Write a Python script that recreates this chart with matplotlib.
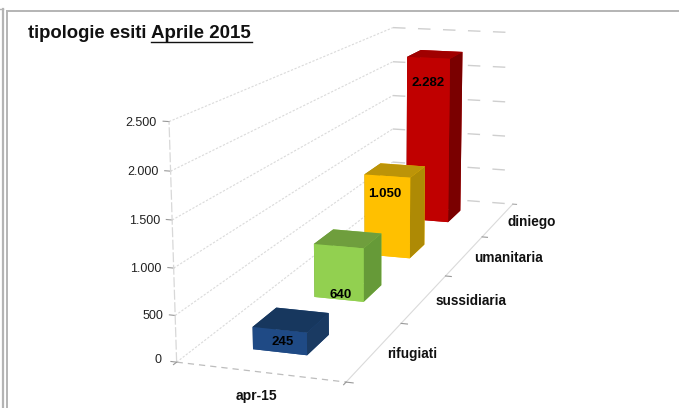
import numpy as np
import matplotlib
matplotlib.use('Agg')
import matplotlib.pyplot as plt
from matplotlib.lines import Line2D
from mpl_toolkits.mplot3d import proj3d

# --- data -------------------------------------------------------------
categories = ['rifugiati', 'sussidiaria', 'umanitaria', 'diniego']
values = [245, 640, 1050, 2282]
value_labels = ['245', '640', '1.050', '2.282']
value_ticks = [0, 500, 1000, 1500, 2000, 2500]
value_tick_labels = ['0', '500', '1.000', '1.500', '2.000', '2.500']
period_label = 'apr-15'
title_plain = 'tipologie esiti'
title_underlined = 'Aprile 2015'

# --- style ------------------------------------------------------------
W, H = 679, 408
FONT = 'Liberation Sans'
front_col = ['#1F4A85', '#92D050', '#FFC000', '#C00000']
top_col = ['#17375E', '#6F9E3D', '#BC9408', '#A00000']
side_col = ['#1A3A62', '#669A38', '#AE8A05', '#7A0000']
label_frac = [0.45, 0.08, 0.78, 0.85]
label_x = [0.505, 0.50, 0.47, 0.49]
FRAME = '#B4B4B4'
GRID = '#DADADA'
DASH = '#CFCFCF'

fig = plt.figure(figsize=(W / 100, H / 100), dpi=100, facecolor='white')
S, cx, cy = 645.14, 365.35, 179.52
ax = fig.add_axes([(cx - S / 2) / W, (H - cy - S / 2) / H, S / W, S / H],
                  projection='3d')
ax.computed_zorder = False
ax.patch.set_alpha(0)
ax.set_axis_off()
ax.view_init(elev=12.95, azim=-72.16, roll=0)
ax.set_proj_type('persp', focal_length=0.4243)
ax.set_box_aspect((1, 4.090, 1.368))

n = len(categories)
zmax = value_ticks[-1]
ax.set_xlim(0, 1)
ax.set_ylim(0, n)
ax.set_zlim(0, zmax)
M = ax.get_proj()


def label3d(x, y, z, s, dy_px=0, **kw):
    """Place a flat text at the projected position of a 3D point."""
    px, py, _ = proj3d.proj_transform(x, y, z, M)
    ax.annotate(s, (px, py), xycoords='data', xytext=(0, -dy_px * 0.72),
                textcoords='offset points', family=FONT, annotation_clip=False, **kw)


# gridlines on the two walls
for v, lab in zip(value_ticks, value_tick_labels):
    ax.plot([0, 0], [0, n], [v, v], color=GRID, lw=0.8, ls=(0, (2, 1.5)), zorder=1)
    ax.plot([0, 1], [n, n], [v, v], color=DASH, lw=1.0, ls=(0, (9, 9)), zorder=1)
    ax.plot([-0.035, 0], [0, 0], [v, v], color='#999999', lw=0.8, zorder=1)
    label3d(-0.072 if v else -0.09, 0, v, lab, dy_px=2 if v else 0, ha='right', va='center',
            fontsize=9, color='#222222', zorder=10)

# axis lines
ax.plot([0, 0], [0, 0], [0, zmax], color='#D8D8D8', lw=0.9, ls=(0, (8, 2)), zorder=1)
ax.plot([0, 1], [0, 0], [0, 0], color='#BDBDBD', lw=0.9, ls=(0, (5, 4)), zorder=1)
ax.plot([1, 1], [0, n], [0, 0], color=GRID, lw=0.8, zorder=1)
ax.plot([1, 1.03], [n, n], [0, 0], color='#A8A8A8', lw=0.8, zorder=1)
for i in range(n):
    ax.plot([1, 1.04], [i, i], [0, 0], color='#999999', lw=0.8, zorder=1)
ax.plot([0, 0], [0, -0.04], [0, 0], color='#999999', lw=0.8, zorder=1)
ax.plot([1, 1], [0, -0.04], [0, 0], color='#999999', lw=0.8, zorder=1)

# bars, back to front
for i in reversed(range(n)):
    # face order of bar3d: -Z, +Z, -Y, +Y, -X, +X
    cols = [front_col[i], top_col[i], front_col[i], front_col[i], side_col[i], side_col[i]]
    ax.bar3d(0.325, i + 0.32, 0, 0.33, 0.36, values[i], color=cols, shade=False,
             zorder=5 + (n - i), edgecolor='none', linewidth=0)

# value labels on the front faces
for i in range(n):
    label3d(label_x[i], i + 0.32, values[i] * label_frac[i], value_labels[i], ha='center',
            va='center', fontsize=9.5, fontweight='bold', color='black', zorder=20)

# category and period labels
for i in range(n):
    label3d(1.07, i + 0.5, 0, categories[i], dy_px=1.5, ha='left', va='center', fontsize=9.8,
            fontweight='bold', color='#111111', zorder=10)
label3d(0.65, -0.40, 0, period_label, dy_px=-6, ha='center', va='center', fontsize=10,
        fontweight='bold', color='#111111', zorder=10)

ax.set_xlim(0, 1)
ax.set_ylim(0, n)
ax.set_zlim(0, zmax)

# title
fig.text(28 / W, 1 - 37.5 / H, title_plain, ha='left', va='baseline', fontsize=13.3,
         fontweight='bold', family=FONT, color='#111111')
fig.text(151 / W, 1 - 37.5 / H, title_underlined, ha='left', va='baseline', fontsize=13.5,
         fontweight='bold', family=FONT, color='#111111')
fig.add_artist(Line2D([151 / W, 252 / W], [1 - 41.7 / H] * 2, color='#111111', lw=1.0))

# surrounding frame
fig.add_artist(Line2D([7 / W, 1], [1 - 11 / H] * 2, color=FRAME, lw=1.4))
fig.add_artist(Line2D([7 / W] * 2, [0, 1 - 11 / H], color=FRAME, lw=1.4))
fig.add_artist(Line2D([3 / W] * 2, [0, 1 - 9 / H], color=FRAME, lw=1.6))
fig.add_artist(Line2D([0, 3 / W], [1 - 9 / H] * 2, color=FRAME, lw=1.0))

fig.savefig('out.png', dpi=100, facecolor='white')
